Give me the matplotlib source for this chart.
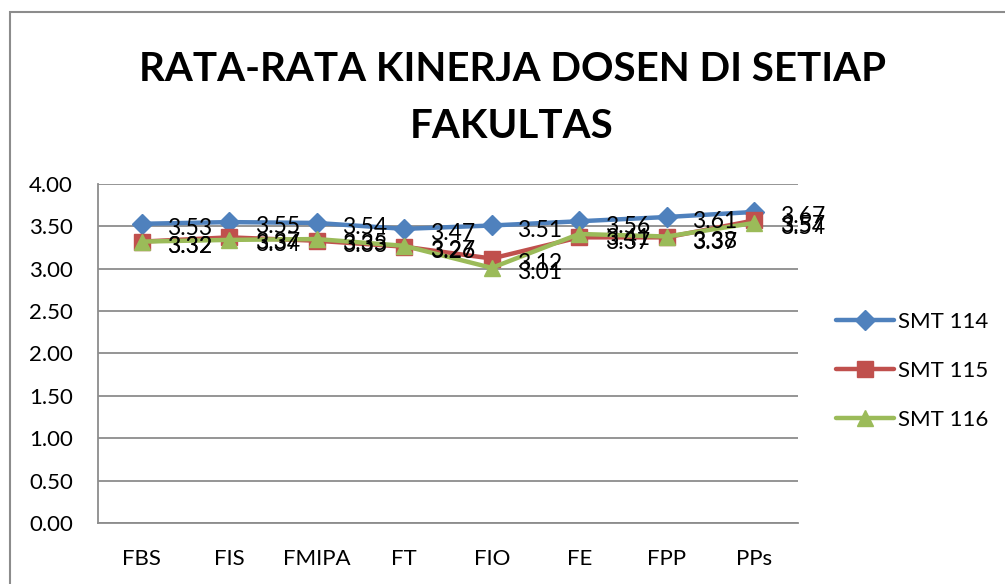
import matplotlib
matplotlib.use("Agg")
import matplotlib.pyplot as plt
from matplotlib.patches import Rectangle

# =========================
# Data
# =========================
CATEGORIES = ["FBS", "FIS", "FMIPA", "FT", "FIO", "FE", "FPP", "PPs"]
SMT_114 = [3.53, 3.55, 3.54, 3.47, 3.51, 3.56, 3.61, 3.67]
SMT_115 = [3.32, 3.37, 3.33, 3.26, 3.12, 3.37, 3.37, 3.57]
SMT_116 = [3.32, 3.34, 3.35, 3.27, 3.01, 3.41, 3.38, 3.54]
SERIES_NAMES = ["SMT 114", "SMT 115", "SMT 116"]
Y_TICKS = [0.0, 0.5, 1.0, 1.5, 2.0, 2.5, 3.0, 3.5, 4.0]

COLORS = ["#4F81BD", "#C0504D", "#9BBB59"]
MARKERS = ["D", "s", "^"]
MARKER_SIZES = [10, 11, 12]

plt.rcParams["font.family"] = ["Lato", "DejaVu Sans"]

fig = plt.figure(figsize=(10.05, 5.84), dpi=100)
ax = fig.add_axes([0.0975, 0.1045, 0.6965, 0.5805])

# outer chart border
fig.patches.append(Rectangle((10 / 1005, -0.1), 1.2, (584 - 12) / 584 + 0.1,
                             transform=fig.transFigure, fill=False,
                             edgecolor="#8c8c8c", linewidth=1.5))

x = list(range(len(CATEGORIES)))
for vals, name, col, mk, ms in zip([SMT_114, SMT_115, SMT_116], SERIES_NAMES,
                                   COLORS, MARKERS, MARKER_SIZES):
    ax.plot(x, vals, color=col, linewidth=3.2, marker=mk, markersize=ms,
            label=name, solid_capstyle="round", zorder=3)
    for xi, v in zip(x, vals):
        ax.annotate(f"{v:.2f}", (xi, v), xytext=(18.5, -3.5), textcoords="offset points",
                    ha="left", va="center", fontsize=16.5, color="black", zorder=4)

ax.set_xlim(-0.5, len(CATEGORIES) - 0.5)
ax.set_ylim(0, 4)
ax.set_yticks(Y_TICKS)
ax.set_yticklabels([f"{t:.2f}" for t in Y_TICKS], fontsize=16)
ax.set_xticks(x)
ax.set_xticklabels(CATEGORIES, fontsize=16)
ax.tick_params(axis="y", length=0, pad=18)
ax.tick_params(axis="x", length=0, pad=19)
ax.yaxis.grid(True, color="#8c8c8c", linewidth=1.3)
ax.set_axisbelow(True)
for side in ["top", "right"]:
    ax.spines[side].set_visible(False)
for side in ["left", "bottom"]:
    ax.spines[side].set_color("#8c8c8c")
    ax.spines[side].set_linewidth(1.3)

fig.text(0.5095, 0.832, "RATA-RATA KINERJA DOSEN DI SETIAP\nFAKULTAS", ha="center",
         va="center", fontsize=29, fontweight="bold", linespacing=1.65)

fig.legend(loc="center left", bbox_to_anchor=(836 / 1005, (584 - 371) / 584),
           bbox_transform=fig.transFigure, frameon=False, borderpad=0,
           borderaxespad=0, fontsize=16, handlelength=2.6, handletextpad=0.2,
           labelspacing=1.3)

fig.savefig("out.png", dpi=100)
